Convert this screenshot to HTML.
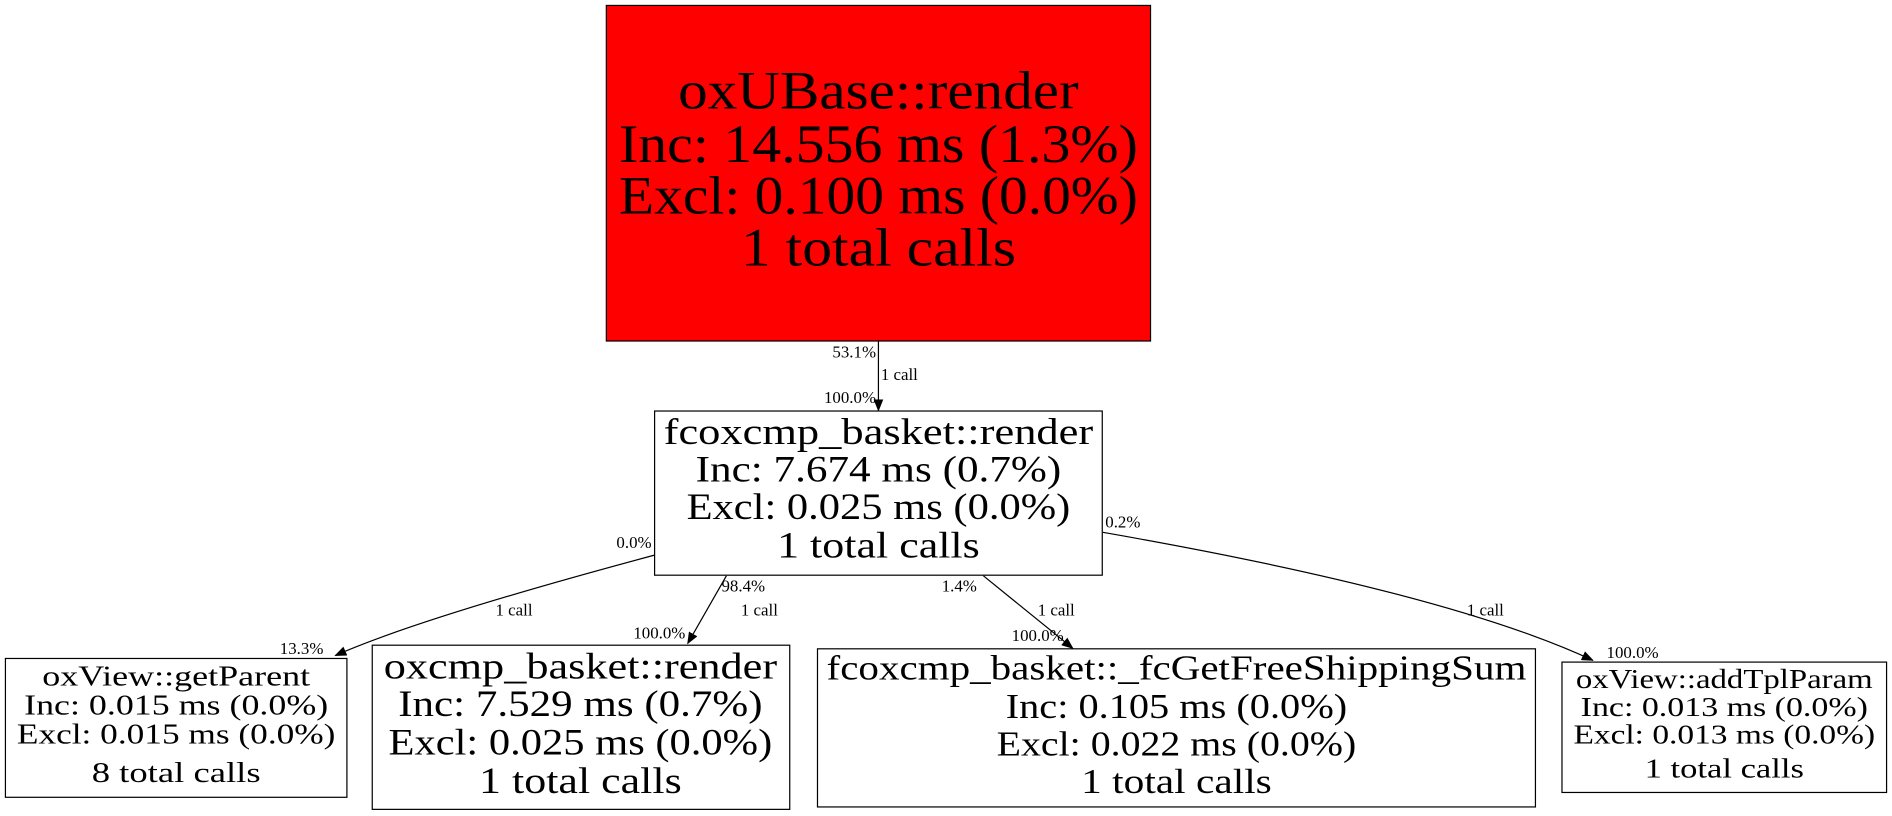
<!DOCTYPE html>
<html><head><meta charset="utf-8"><style>
html,body{margin:0;padding:0;background:#fff;width:1892px;height:816px;overflow:hidden}
svg{display:block}
text{font-family:"Liberation Serif",serif;fill:#000}
</style></head><body>
<svg width="1892" height="816" viewBox="0 0 1568 676" preserveAspectRatio="none" xmlns="http://www.w3.org/2000/svg">
<defs><marker id="a" markerWidth="10" markerHeight="8" refX="9" refY="4" orient="auto" markerUnits="userSpaceOnUse"><path d="M0,0 L10,4 L0,8z" fill="#000"/></marker></defs>
<g fill="none" stroke="#000" stroke-width="1">
<rect x="502.5" y="4.5" width="451" height="278" fill="#ff0000"/>
<rect x="542.5" y="340.5" width="371" height="136" fill="#fff"/>
<rect x="4.5" y="545.5" width="283" height="115" fill="#fff"/>
<rect x="308.5" y="534.5" width="346" height="136" fill="#fff"/>
<rect x="677.5" y="537.5" width="595" height="131" fill="#fff"/>
<rect x="1294.5" y="548.5" width="269" height="108" fill="#fff"/>
<path d="M728,282 L728,340" marker-end="url(#a)"/>
<path d="M542,460 C430,490 330,520 278,543" marker-end="url(#a)"/>
<path d="M602,477 L570,533" marker-end="url(#a)"/>
<path d="M815,477 L889,537" marker-end="url(#a)"/>
<path d="M914,441 C1080,470 1230,505 1320,547" marker-end="url(#a)"/>
</g>
<g text-anchor="middle">
<text x="728" y="90" font-size="45" textLength="332" lengthAdjust="spacingAndGlyphs">oxUBase::render</text>
<text x="728" y="134" font-size="45" textLength="430" lengthAdjust="spacingAndGlyphs">Inc: 14.556 ms (1.3%)</text>
<text x="728" y="177" font-size="45" textLength="430" lengthAdjust="spacingAndGlyphs">Excl: 0.100 ms (0.0%)</text>
<text x="728" y="220" font-size="45" textLength="228" lengthAdjust="spacingAndGlyphs">1 total calls</text>

<text x="728" y="368" font-size="31" textLength="356" lengthAdjust="spacingAndGlyphs">fcoxcmp_basket::render</text>
<text x="728" y="399" font-size="31" textLength="303" lengthAdjust="spacingAndGlyphs">Inc: 7.674 ms (0.7%)</text>
<text x="728" y="430" font-size="31" textLength="318" lengthAdjust="spacingAndGlyphs">Excl: 0.025 ms (0.0%)</text>
<text x="728" y="462" font-size="31" textLength="168" lengthAdjust="spacingAndGlyphs">1 total calls</text>

<text x="146" y="568" font-size="24" textLength="222" lengthAdjust="spacingAndGlyphs">oxView::getParent</text>
<text x="146" y="592" font-size="24" textLength="252" lengthAdjust="spacingAndGlyphs">Inc: 0.015 ms (0.0%)</text>
<text x="146" y="616" font-size="24" textLength="264" lengthAdjust="spacingAndGlyphs">Excl: 0.015 ms (0.0%)</text>
<text x="146" y="648" font-size="24" textLength="140" lengthAdjust="spacingAndGlyphs">8 total calls</text>

<text x="481" y="562" font-size="31" textLength="326" lengthAdjust="spacingAndGlyphs">oxcmp_basket::render</text>
<text x="481" y="593" font-size="31" textLength="302" lengthAdjust="spacingAndGlyphs">Inc: 7.529 ms (0.7%)</text>
<text x="481" y="625" font-size="31" textLength="318" lengthAdjust="spacingAndGlyphs">Excl: 0.025 ms (0.0%)</text>
<text x="481" y="657" font-size="31" textLength="168" lengthAdjust="spacingAndGlyphs">1 total calls</text>

<text x="975" y="563" font-size="29" textLength="580" lengthAdjust="spacingAndGlyphs">fcoxcmp_basket::_fcGetFreeShippingSum</text>
<text x="975" y="595" font-size="29" textLength="283" lengthAdjust="spacingAndGlyphs">Inc: 0.105 ms (0.0%)</text>
<text x="975" y="626" font-size="29" textLength="298" lengthAdjust="spacingAndGlyphs">Excl: 0.022 ms (0.0%)</text>
<text x="975" y="657" font-size="29" textLength="158" lengthAdjust="spacingAndGlyphs">1 total calls</text>

<text x="1429" y="570" font-size="23" textLength="246" lengthAdjust="spacingAndGlyphs">oxView::addTplParam</text>
<text x="1429" y="593" font-size="23" textLength="238" lengthAdjust="spacingAndGlyphs">Inc: 0.013 ms (0.0%)</text>
<text x="1429" y="616" font-size="23" textLength="250" lengthAdjust="spacingAndGlyphs">Excl: 0.013 ms (0.0%)</text>
<text x="1429" y="644" font-size="23" textLength="132" lengthAdjust="spacingAndGlyphs">1 total calls</text>
</g>
<g font-size="14">
<text x="726" y="296" text-anchor="end">53.1%</text>
<text x="730" y="315">1 call</text>
<text x="726" y="334" text-anchor="end">100.0%</text>
<text x="540" y="454" text-anchor="end">0.0%</text>
<text x="426" y="510" text-anchor="middle">1 call</text>
<text x="268" y="542" text-anchor="end">13.3%</text>
<text x="616" y="490" text-anchor="middle">98.4%</text>
<text x="614" y="510">1 call</text>
<text x="568" y="529" text-anchor="end">100.0%</text>
<text x="795" y="490" text-anchor="middle">1.4%</text>
<text x="860" y="510">1 call</text>
<text x="860" y="531" text-anchor="middle">100.0%</text>
<text x="916" y="437">0.2%</text>
<text x="1231" y="510" text-anchor="middle">1 call</text>
<text x="1353" y="545" text-anchor="middle">100.0%</text>
</g>
</svg>
</body></html>
